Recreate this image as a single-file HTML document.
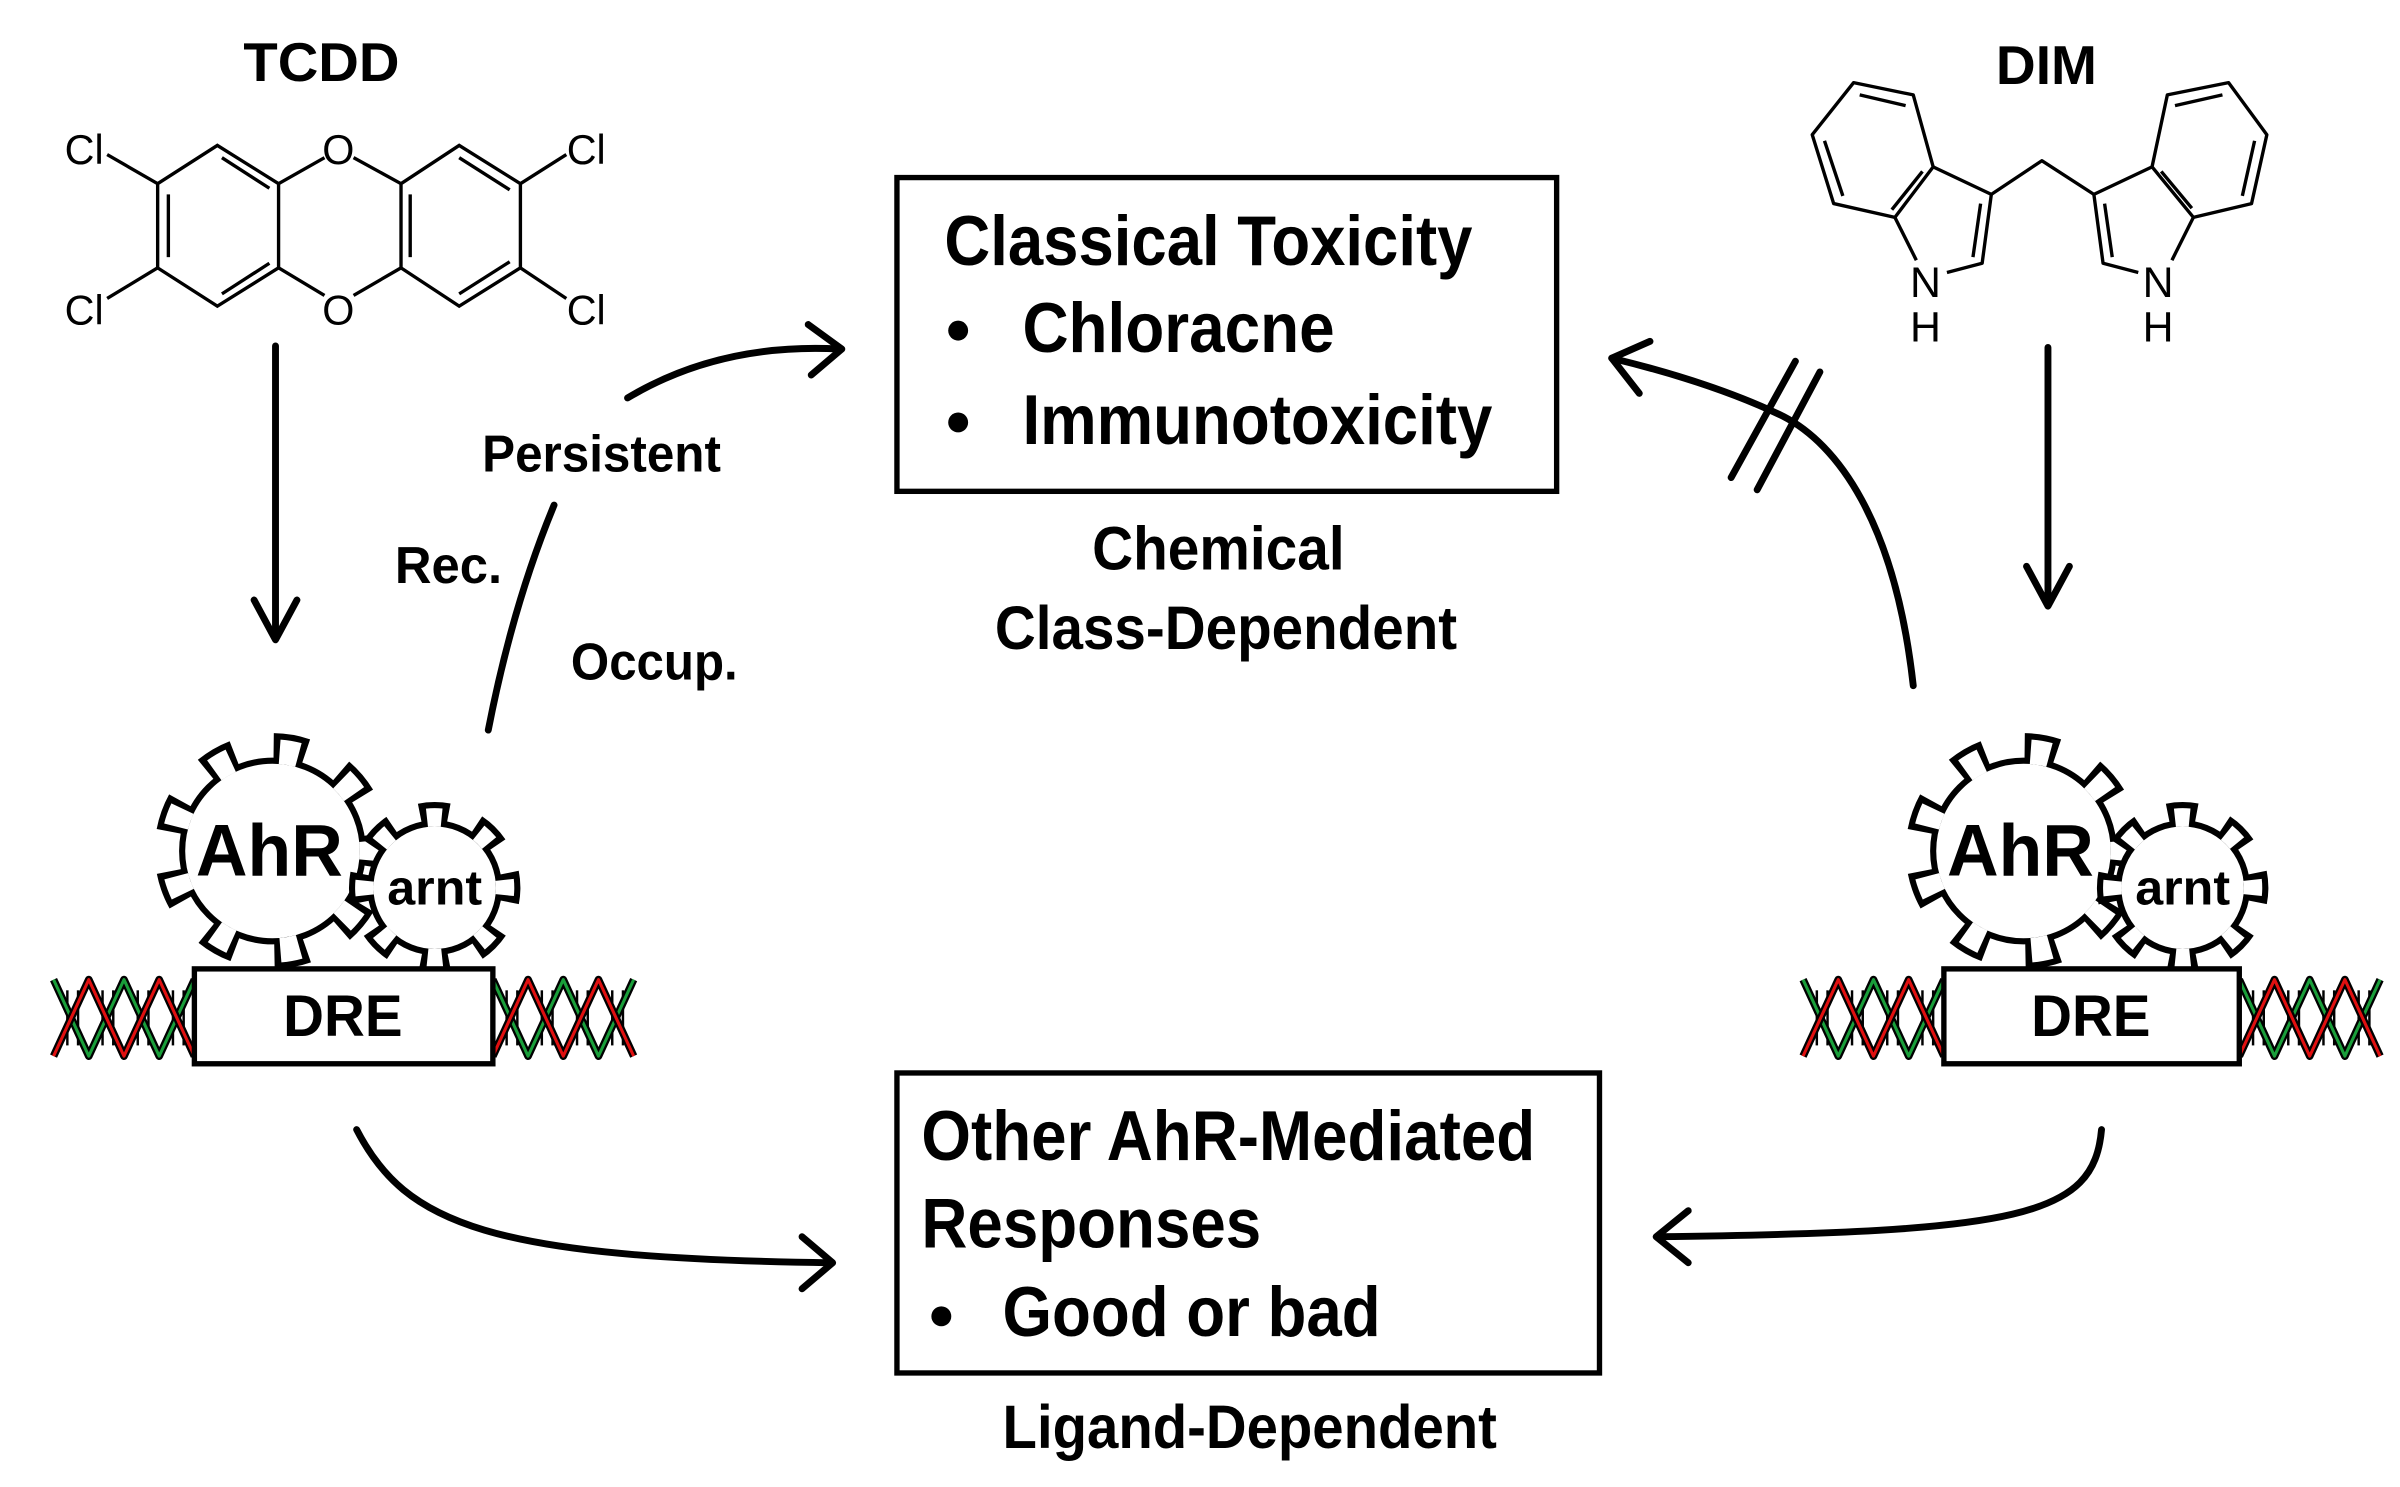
<!DOCTYPE html>
<html><head><meta charset="utf-8"><style>
html,body{margin:0;padding:0;background:#fff}
svg{display:block}
text{font-family:"Liberation Sans",Arial,sans-serif;fill:#000}
.b{font-weight:bold}
</style></head><body>
<svg width="2400" height="1487" viewBox="0 0 1568 971.5" xmlns="http://www.w3.org/2000/svg">
<rect width="1568" height="971.5" fill="#fff"/>

<!-- TCDD -->
<text class="b" x="210" y="53" font-size="36" text-anchor="middle" textLength="102" lengthAdjust="spacingAndGlyphs">TCDD</text>
<g stroke="#000" stroke-width="2.2" fill="none">
<polygon points="103,120 142,95 182,120 182,175 142,200 103,175"/>
<polygon points="262,120 300,95 340,120 340,175 300,200 262,175"/>
<line x1="110" y1="127" x2="110" y2="168"/>
<line x1="145" y1="103" x2="176" y2="123"/>
<line x1="145" y1="192" x2="176" y2="172"/>
<line x1="268" y1="127" x2="268" y2="168"/>
<line x1="300" y1="103" x2="333" y2="124"/>
<line x1="300" y1="192" x2="333" y2="171"/>
<line x1="182" y1="120" x2="212" y2="103"/>
<line x1="231" y1="103" x2="262" y2="120"/>
<line x1="182" y1="175" x2="212" y2="193"/>
<line x1="231" y1="193" x2="262" y2="175"/>
<line x1="70" y1="101" x2="103" y2="120"/>
<line x1="70" y1="195" x2="103" y2="175"/>
<line x1="340" y1="120" x2="370" y2="101"/>
<line x1="340" y1="175" x2="370" y2="195"/>
</g>
<g font-size="27" text-anchor="middle">
<text x="55" y="107">Cl</text><text x="55" y="212">Cl</text>
<text x="383" y="107">Cl</text><text x="383" y="212">Cl</text>
<text x="221" y="107">O</text><text x="221" y="212">O</text>
</g>

<!-- DIM -->
<text class="b" x="1337" y="55" font-size="36" text-anchor="middle" textLength="66" lengthAdjust="spacingAndGlyphs">DIM</text>
<g stroke="#000" stroke-width="2.2" fill="none" stroke-linejoin="round">
<polygon points="1184,88 1211,54 1250,62 1263,109 1238,142 1198,133"/>
<polyline points="1263,109 1301,127 1295,172 1272,178"/>
<line x1="1238" y1="142" x2="1252" y2="170"/>
<polyline points="1301,127 1334,105 1368,127"/>
<polygon points="1406,109 1416,62 1456,54 1481,88 1471,133 1433,142"/>
<polyline points="1406,109 1368,127 1374,172 1397,178"/>
<line x1="1433" y1="142" x2="1419" y2="170"/>
<line x1="1215" y1="62" x2="1245" y2="69"/>
<line x1="1192" y1="92" x2="1204" y2="128"/>
<line x1="1256" y1="112" x2="1236" y2="137"/>
<line x1="1294" y1="133" x2="1289" y2="168"/>
<line x1="1421" y1="69" x2="1452" y2="62"/>
<line x1="1473" y1="92" x2="1465" y2="128"/>
<line x1="1412" y1="112" x2="1432" y2="136"/>
<line x1="1375" y1="133" x2="1380" y2="168"/>
</g>
<g font-size="28" text-anchor="middle">
<text x="1258" y="194">N</text><text x="1258" y="223">H</text>
<text x="1410" y="194">N</text><text x="1410" y="223">H</text>
</g>

<!-- down arrows -->
<g stroke="#000" stroke-width="4.5" fill="none" stroke-linecap="round" stroke-linejoin="round">
<line x1="180" y1="226" x2="180" y2="416"/>
<polyline points="166,392 180,418 194,392"/>
<line x1="1338" y1="227" x2="1338" y2="394"/>
<polyline points="1324,370 1338,396 1352,370"/>
</g>

<!-- Persistent arrow -->
<g stroke="#000" stroke-width="4.5" fill="none" stroke-linecap="round" stroke-linejoin="round">
<path d="M319,477 Q335,395 362,330"/>
<path d="M410,260 Q470,224 548,228"/>
<polyline points="528,212 550,228 530,245"/>
</g>
<g class="b" font-size="34">
<text class="b" x="315" y="308" textLength="156" lengthAdjust="spacingAndGlyphs">Persistent</text>
<text class="b" x="258" y="381" textLength="70" lengthAdjust="spacingAndGlyphs">Rec.</text>
<text class="b" x="373" y="444" textLength="109" lengthAdjust="spacingAndGlyphs">Occup.</text>
</g>

<!-- right curve with block -->
<g stroke="#000" stroke-width="4.5" fill="none" stroke-linecap="round" stroke-linejoin="round">
<path d="M1250,448 C1238,340 1200,290 1165,272 C1130,255 1090,243 1053,234"/>
<polyline points="1078,223 1053,234 1071,257"/>
<line x1="1173" y1="236" x2="1131" y2="312"/>
<line x1="1189" y1="243" x2="1148" y2="320"/>
</g>

<!-- top box -->
<rect x="586" y="116" width="431" height="205" fill="none" stroke="#000" stroke-width="3.5"/>
<text class="b" x="617" y="173" font-size="46" textLength="345" lengthAdjust="spacingAndGlyphs">Classical Toxicity</text>
<circle cx="626" cy="216" r="6.5"/><circle cx="626" cy="276" r="6.5"/>
<text class="b" x="668" y="230" font-size="46" textLength="204" lengthAdjust="spacingAndGlyphs">Chloracne</text>
<text class="b" x="668" y="290" font-size="46" textLength="307" lengthAdjust="spacingAndGlyphs">Immunotoxicity</text>
<text class="b" x="796" y="372" font-size="40" text-anchor="middle" textLength="165" lengthAdjust="spacingAndGlyphs">Chemical</text>
<text class="b" x="650" y="424" font-size="40" textLength="302" lengthAdjust="spacingAndGlyphs">Class-Dependent</text>

<!-- bottom box -->
<rect x="586" y="701" width="459" height="196" fill="none" stroke="#000" stroke-width="3.5"/>
<text class="b" x="602" y="758" font-size="46" textLength="401" lengthAdjust="spacingAndGlyphs">Other AhR-Mediated</text>
<text class="b" x="602" y="815" font-size="46" textLength="222" lengthAdjust="spacingAndGlyphs">Responses</text>
<circle cx="615" cy="860" r="6.5"/>
<text class="b" x="655" y="873" font-size="46" textLength="247" lengthAdjust="spacingAndGlyphs">Good or bad</text>
<text class="b" x="655" y="946" font-size="40" textLength="323" lengthAdjust="spacingAndGlyphs">Ligand-Dependent</text>

<!-- bottom arrows -->
<g stroke="#000" stroke-width="4.5" fill="none" stroke-linecap="round" stroke-linejoin="round">
<path d="M233,738 C265,800 320,822 543,825"/>
<polyline points="524,808 544,825 524,842"/>
<path d="M1373,738 C1368,795 1320,805 1083,808"/>
<polyline points="1103,791 1082,808 1103,825"/>
</g>

<defs>
<g id="dna">
<g stroke="#000" stroke-width="1.6">
<line x1="9" y1="647" x2="9" y2="683"/><line x1="16" y1="647" x2="16" y2="683"/>
<line x1="32" y1="647" x2="32" y2="683"/><line x1="39" y1="647" x2="39" y2="683"/>
<line x1="55" y1="647" x2="55" y2="683"/><line x1="62" y1="647" x2="62" y2="683"/>
<line x1="78" y1="647" x2="78" y2="683"/><line x1="85" y1="647" x2="85" y2="683"/>
</g>
<path d="M0,640 L23,690 L46,640 L69,690 L92,640" fill="none" stroke="#000" stroke-width="5" stroke-linejoin="round"/>
<path d="M0,640 L23,690 L46,640 L69,690 L92,640" fill="none" stroke="#1a9e3a" stroke-width="2" stroke-linejoin="round"/>
<path d="M0,690 L23,640 L46,690 L69,640 L92,690" fill="none" stroke="#000" stroke-width="5" stroke-linejoin="round"/>
<path d="M0,690 L23,640 L46,690 L69,640 L92,690" fill="none" stroke="#e01010" stroke-width="2" stroke-linejoin="round"/>
</g>
<g id="gearA">
<circle r="67" fill="none" stroke="#000" stroke-width="20" pathLength="360" stroke-dasharray="18 22" stroke-dashoffset="9"/>
<circle r="59" fill="#fff" stroke="#000" stroke-width="4"/>
<circle r="65" fill="none" stroke="#fff" stroke-width="16" pathLength="360" stroke-dasharray="11 29" stroke-dashoffset="5.5"/>
</g>
<g id="gearB">
<circle r="48" fill="none" stroke="#000" stroke-width="16" pathLength="360" stroke-dasharray="22 23" stroke-dashoffset="11"/>
<circle r="42" fill="#fff" stroke="#000" stroke-width="4"/>
<circle r="46" fill="none" stroke="#fff" stroke-width="12" pathLength="360" stroke-dasharray="12 33" stroke-dashoffset="6"/>
</g>
</defs>

<!-- left complex -->
<use href="#dna" x="35"/>
<use href="#dna" x="322"/>
<use href="#gearA" x="178" y="556"/>
<use href="#gearB" x="284" y="580"/>
<text class="b" x="176" y="572" font-size="48" text-anchor="middle" textLength="96" lengthAdjust="spacingAndGlyphs">AhR</text>
<text class="b" x="284" y="591" font-size="32" text-anchor="middle" textLength="62" lengthAdjust="spacingAndGlyphs">arnt</text>
<rect x="127" y="633" width="195" height="62" fill="#fff" stroke="#000" stroke-width="3.5"/>
<text class="b" x="224" y="677" font-size="38" text-anchor="middle" textLength="78" lengthAdjust="spacingAndGlyphs">DRE</text>

<!-- right complex -->
<use href="#dna" x="1178"/>
<use href="#dna" x="1463"/>
<use href="#gearA" x="1322" y="556"/>
<use href="#gearB" x="1426" y="580"/>
<text class="b" x="1320" y="572" font-size="48" text-anchor="middle" textLength="96" lengthAdjust="spacingAndGlyphs">AhR</text>
<text class="b" x="1426" y="591" font-size="32" text-anchor="middle" textLength="62" lengthAdjust="spacingAndGlyphs">arnt</text>
<rect x="1270" y="633" width="193" height="62" fill="#fff" stroke="#000" stroke-width="3.5"/>
<text class="b" x="1366" y="677" font-size="38" text-anchor="middle" textLength="78" lengthAdjust="spacingAndGlyphs">DRE</text>
</svg>
</body></html>
